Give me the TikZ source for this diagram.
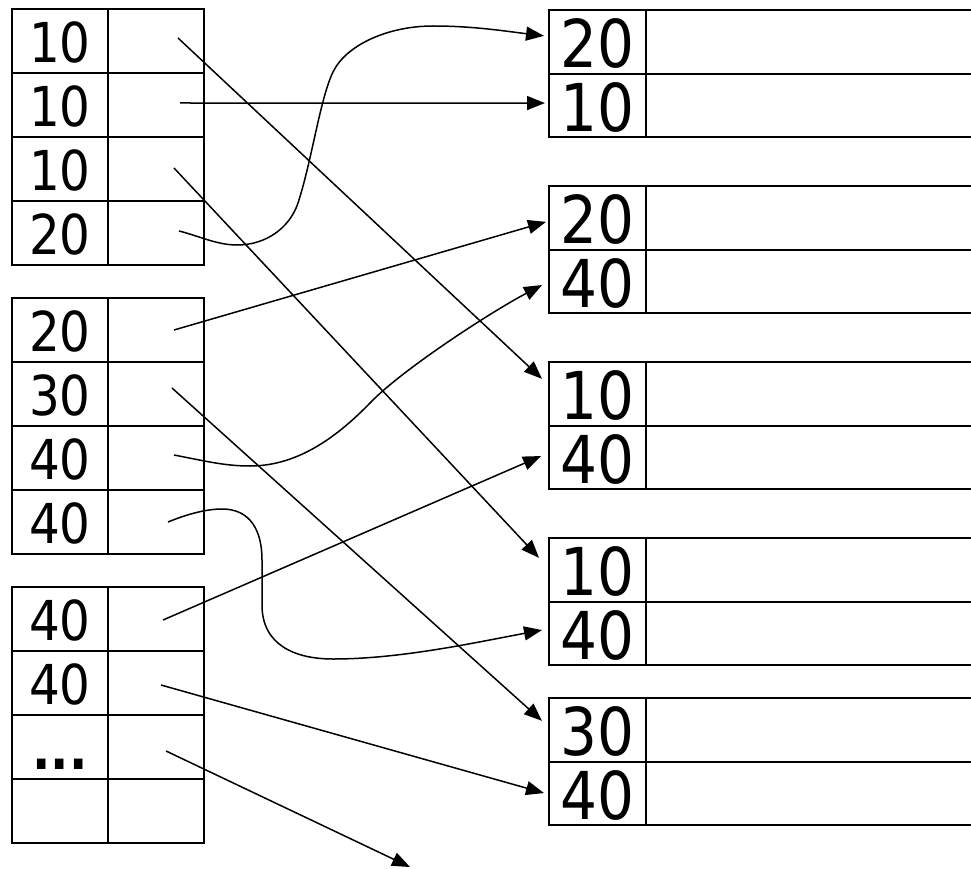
\documentclass[tikz,border=0pt]{standalone}
\usepackage{fontspec}
\newfontfamily\cellfont{DejaVu Sans}[FakeStretch=0.88]
\usetikzlibrary{arrows.meta,positioning}
\newcommand{\gapdots}{\textbf{...}}

\begin{document}
\begin{tikzpicture}[x=1pt, y=-1pt,
    cell/.style={draw, line width=1.8pt, outer sep=0pt, inner sep=0pt,
        minimum width=96pt, minimum height=64pt, anchor=north west,
        text height=44pt, font=\cellfont\fontsize{55}{60}\selectfont},
    bucket/.style={cell, line width=2.1pt, minimum width=97pt, minimum height=63.7pt,
        text height=52pt, font=\cellfont\fontsize{66}{70}\selectfont},
    rowline/.style={line width=2.1pt},
    arrow/.style={-{Triangle[length=18pt, width=14pt]}, line width=1.5pt}
]
\useasboundingbox (0,0) rectangle (971,869);

% Index blocks (left)
\foreach \k [count=\r] in {10,10,10,20} {
  \node[cell] (a\r) at (12,{9+64*(\r-1)}) {\k};
  \node[cell, right=0pt of a\r] (pa\r) {};
}
\foreach \k [count=\r] in {20,30,40,40} {
  \node[cell] (b\r) at (12,{298+64*(\r-1)}) {\k};
  \node[cell, right=0pt of b\r] (pb\r) {};
}
\foreach \k [count=\r] in {40,40,\gapdots,{}} {
  \node[cell] (c\r) at (12,{587+64*(\r-1)}) {\k};
  \node[cell, right=0pt of c\r] (pc\r) {};
}

% Buckets (right), open on the right side
\foreach \top/\ka/\kb [count=\b] in {10/20/10, 186/20/40, 362/10/40, 538/10/40, 698/30/40} {
  \node[bucket] (r\b-1) at (549,\top) {\ka};
  \node[bucket, below=0pt of r\b-1] (r\b-2) {\kb};
  \draw[rowline] (r\b-1.north east) -- +(325,0)
                 (r\b-1.south east) -- +(325,0)
                 (r\b-2.south east) -- +(325,0);
}
\coordinate (more) at (410,867);

% Pointers
\draw[arrow] ([xshift=22pt,yshift=3pt]pa1.center) -- ([xshift=-7pt,yshift=15pt]r3-1.west);
\draw[arrow] ([xshift=24pt,yshift=2pt]pa2.center) -- ([xshift=-4pt,yshift=2.5pt]r1-2.west);
\draw[arrow] ([xshift=18pt,yshift=1pt]pa3.center) -- ([xshift=-10pt,yshift=12pt]r4-1.west);
\draw[arrow] ([xshift=23pt,yshift=2pt]pa4.center)
    .. controls (199,236) and (217,245) .. (237,245)
    .. controls (267,245) and (290,227) .. (298,203)
    .. controls (312,160) and (320,99) .. (333,72)
    .. controls (346,45) and (388,26) .. (433,26)
    .. controls (473,26) and (504,31) .. ([xshift=-5pt,yshift=6pt]r1-1.west);

\draw[arrow] ([xshift=18pt]pb1.center) -- ([xshift=-3pt,yshift=-4pt]r2-1.west);
\draw[arrow] ([xshift=16pt,yshift=6pt]pb2.center) -- ([xshift=-7pt,yshift=9pt]r5-1.west);
\draw[arrow] ([xshift=18pt,yshift=3pt]pb3.center)
    .. controls (205,461) and (225,466) .. (250,466)
    .. controls (300,466) and (340,434) .. (371,402)
    .. controls (402,370) and (489,313) .. ([xshift=-7pt,yshift=-3.5pt]r2-2.west);
\draw[arrow] ([xshift=12pt]pb4.center)
    .. controls (185,515) and (205,509) .. (222,509)
    .. controls (250,509) and (262,530) .. (262,560) -- (262,605)
    .. controls (262,645) and (295,659) .. (333,659)
    .. controls (400,659) and (473,643) .. ([xshift=-7pt,yshift=3.5pt]r4-2.west);

\draw[arrow] ([xshift=7pt,yshift=-1pt]pc1.center) -- ([xshift=-8pt,yshift=1.5pt]r3-2.west);
\draw[arrow] ([xshift=5pt,yshift=-2pt]pc2.center) -- ([xshift=-5pt,yshift=0.5pt]r5-2.west);
\draw[arrow] ([xshift=10pt,yshift=-4pt]pc3.center) -- (more);

\end{tikzpicture}
\end{document}
